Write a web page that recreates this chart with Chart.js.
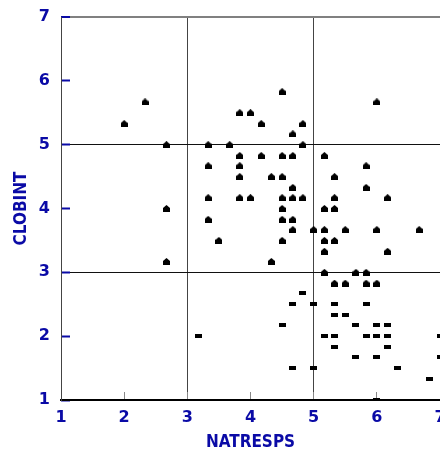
<!DOCTYPE html>
<html>
<head>
<meta charset="utf-8">
<script src="https://cdn.jsdelivr.net/npm/chart.js@4/dist/chart.umd.min.js"></script>
<style>
  html, body { margin: 0; padding: 0; background: #ffffff; }
  #wrap { width: 440px; height: 453px; }
</style>
</head>
<body>
<div id="wrap"><canvas id="c" width="440" height="453"></canvas></div>
<script>
// ---- data ----
const xTitle = 'NATRESPS';
const yTitle = 'CLOBINT';
const tickValues = [1, 2, 3, 4, 5, 6, 7];

// points drawn with the "house" marker
const houseX = [2.33, 2.00, 2.67, 3.33, 3.33, 3.33, 2.67, 3.33, 3.50, 2.67,
                4.50, 3.83, 4.00, 4.17, 4.83, 4.67, 3.67, 4.83, 6.00,
                3.83, 4.17, 4.50, 4.67, 5.17,
                3.83, 5.83,
                3.83, 4.33, 4.50, 5.33,
                4.67, 5.83,
                3.83, 4.00, 4.50, 4.67, 4.83, 5.33, 6.17,
                4.50, 5.17, 5.33,
                4.50, 4.67,
                4.67, 5.00, 5.17, 5.50, 6.00, 6.67,
                4.50, 5.17, 5.33,
                5.17, 6.17,
                4.33,
                5.17, 5.67, 5.83,
                5.33, 5.50, 5.83, 6.00];
const houseY = [5.67, 5.33, 5.00, 5.00, 4.67, 4.17, 4.00, 3.83, 3.50, 3.17,
                5.83, 5.50, 5.50, 5.33, 5.33, 5.17, 5.00, 5.00, 5.67,
                4.83, 4.83, 4.83, 4.83, 4.83,
                4.67, 4.67,
                4.50, 4.50, 4.50, 4.50,
                4.33, 4.33,
                4.17, 4.17, 4.17, 4.17, 4.17, 4.17, 4.17,
                4.00, 4.00, 4.00,
                3.83, 3.83,
                3.67, 3.67, 3.67, 3.67, 3.67, 3.67,
                3.50, 3.50, 3.50,
                3.33, 3.33,
                3.17,
                3.00, 3.00, 3.00,
                2.83, 2.83, 2.83, 2.83];

// points drawn with the "dash" marker
const dashX = [3.17, 4.83,
               4.67, 5.00, 5.33, 5.83,
               5.33, 5.50,
               4.50, 5.67, 6.00, 6.17,
               5.17, 5.33, 5.83, 6.00, 6.17, 7.00,
               5.33, 6.17,
               5.67, 6.00, 7.00,
               4.67, 5.00, 6.33,
               6.83,
               6.00];
const dashY = [2.00, 2.67,
               2.50, 2.50, 2.50, 2.50,
               2.33, 2.33,
               2.17, 2.17, 2.17, 2.17,
               2.00, 2.00, 2.00, 2.00, 2.00, 2.00,
               1.83, 1.83,
               1.67, 1.67, 1.67,
               1.50, 1.50, 1.50,
               1.33,
               1.00];

// ---- marker images ----
function makeHouse() {
  const c = document.createElement('canvas');
  c.width = 7; c.height = 7;
  const g = c.getContext('2d');
  g.fillStyle = '#000';
  g.beginPath();
  g.moveTo(3.5, 0);
  g.lineTo(7, 3);
  g.lineTo(7, 7);
  g.lineTo(0, 7);
  g.lineTo(0, 3);
  g.closePath();
  g.fill();
  return c;
}
function makeDash() {
  const c = document.createElement('canvas');
  c.width = 7; c.height = 4;
  const g = c.getContext('2d');
  g.fillStyle = '#000';
  g.fillRect(0, 0, 7, 4);
  return c;
}

const zip = (xs, ys) => xs.map((x, i) => ({ x: x, y: ys[i] }));

const BLUE = '#0a0aa6';
const tickFont = { family: "'DejaVu Sans', sans-serif", weight: 'bold', size: 16 };
const titleFont = { family: "'DejaVu Sans', sans-serif", weight: 'bold condensed', size: 17, lineHeight: 1 };

new Chart(document.getElementById('c'), {
  type: 'scatter',
  data: {
    datasets: [
      { label: 'high', data: zip(houseX, houseY), pointStyle: makeHouse(), pointRadius: 4, borderWidth: 0 },
      { label: 'low', data: zip(dashX, dashY), pointStyle: makeDash(), pointRadius: 4, borderWidth: 0 }
    ]
  },
  options: {
    responsive: false,
    animation: false,
    devicePixelRatio: 1,
    layout: { autoPadding: false, padding: { top: 17, right: -3, bottom: 0, left: 0 } },
    plugins: { legend: { display: false }, tooltip: { enabled: false } },
    scales: {
      x: {
        type: 'linear',
        min: 1, max: 7,
        afterBuildTicks: s => { s.ticks = tickValues.map(v => ({ value: v })); },
        afterFit: s => { s.height = 53; s.paddingLeft = 0; s.paddingRight = 0; },
        border: { display: true, color: '#000', width: 2 },
        grid: {
          color: c => (c.tick && (c.tick.value === 3 || c.tick.value === 5)) ? '#444' : 'rgba(0,0,0,0)',
          lineWidth: 1,
          tickColor: '#888',
          tickWidth: 1,
          tickLength: -8
        },
        ticks: { color: BLUE, font: tickFont, padding: 16, maxRotation: 0 },
        title: { display: true, text: xTitle, color: BLUE, font: titleFont, padding: { top: 0, bottom: 2 } }
      },
      y: {
        type: 'linear',
        min: 1, max: 7,
        afterBuildTicks: s => { s.ticks = tickValues.map(v => ({ value: v })); },
        afterFit: s => { s.width = 61; s.paddingTop = 0; s.paddingBottom = 0; },
        border: { display: true, color: '#444', width: 1 },
        grid: {
          color: c => {
            if (!c.tick) return 'rgba(0,0,0,0)';
            if (c.tick.value === 7) return '#808080';
            if (c.tick.value === 3 || c.tick.value === 5) return '#111';
            return 'rgba(0,0,0,0)';
          },
          lineWidth: c => (c.tick && c.tick.value === 7) ? 2 : 1,
          tickColor: BLUE,
          tickWidth: 2,
          tickLength: -9
        },
        ticks: { color: BLUE, font: tickFont, padding: 20 },
        title: { display: true, text: yTitle, color: BLUE, font: titleFont, padding: { top: 13, bottom: 0 } }
      }
    }
  }
});
</script>
</body>
</html>
